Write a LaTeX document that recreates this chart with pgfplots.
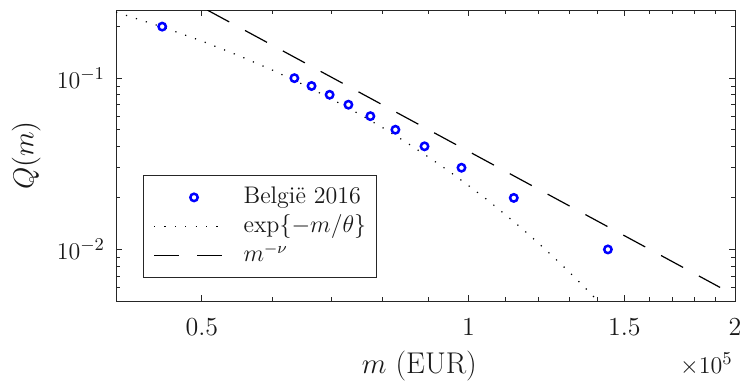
\documentclass[border=0pt]{standalone}
\usepackage{fontspec}
\usepackage{pgfplots}
\pgfplotsset{compat=1.18}
\definecolor{axgray}{gray}{0.15}
\pgfplotstableread{
m Q
45100 0.2
63600 0.1
66500 0.09
69700 0.08
73200 0.07
77500 0.06
82700 0.05
89200 0.04
98200 0.03
112500 0.02
143700 0.01
}\datatab
\pgfplotstableread{
m Q
40000 0.243
45000 0.200
50000 0.1647
55000 0.1356
60000 0.1117
65000 0.0920
70000 0.0757
75000 0.0624
80000 0.0514
85000 0.0423
90000 0.0348
95000 0.0287
100000 0.0236
105000 0.0195
110000 0.0160
115000 0.0132
120000 0.01086
125000 0.00894
130000 0.00737
135000 0.00607
140000 0.00500
145000 0.00412
}\exptab
\pgfplotstableread{
m Q
50700 0.25
192400 0.006
}\powtab
\begin{document}
\begin{tikzpicture}
\begin{axis}[
  at={(0,0)}, anchor=south west,
  scale only axis, width=309.5pt, height=145.5pt,
  xmode=log, ymode=log,
  xmin=40000, xmax=200000, ymin=0.005, ymax=0.25,
  xtick={50000,100000,150000,200000},
  xticklabels={0.5,1,1.5,2},
  minor xtick={60000,70000,80000,90000,110000,120000,130000,140000,160000,170000,180000,190000},
  ytick={0.01,0.1},
  yticklabels={$10^{-2}$,$10^{-1}$},
  minor ytick={0.006,0.007,0.008,0.009,0.02,0.03,0.04,0.05,0.06,0.07,0.08,0.09,0.2},
  tick align=inside,
  major tick length=3pt, minor tick length=1.8pt,
  axis line style={axgray, line width=0.4pt},
  every tick/.style={axgray, line width=0.4pt},
  tick label style={font=\fontsize{13}{15}\selectfont, text=black!90},
  xticklabel style={yshift=-5pt},
  yticklabel style={xshift=-2pt},
  label style={font=\fontsize{15}{18}\selectfont, text=black!90},
  xlabel={$m$ (EUR)},
  ylabel={$Q(m)$},
  xlabel style={at={(axis description cs:0.49,-0.225)}, anchor=center},
  ylabel style={at={(axis description cs:-0.145,0.5)}, anchor=center},
  legend cell align=left,
  legend image code/.code={\draw[mark repeat=2,mark phase=2,#1] plot coordinates {(0pt,0pt) (20pt,0pt) (35pt,0pt)};},
  legend style={at={(rel axis cs:0.0436,0.433)}, anchor=north west,
    draw=axgray, line width=0.4pt, fill=white,
    font=\fontsize{12}{14}\selectfont,
    inner xsep=5pt, inner ysep=5.5pt, row sep=3.6pt, column sep=9.5pt,
    nodes={inner sep=0pt, text height=8.5pt, text depth=2.5pt, text=black!90}},
]
\addplot[only marks, mark=o, mark size=1.85pt, blue, mark options={line width=1.25pt, blue}] table[x=m,y=Q] {\datatab};
\addlegendentry{België 2016}
\addplot[black, line width=0.6pt, dash pattern=on 0.6pt off 4.6pt] table[x=m,y=Q] {\exptab};
\addlegendentry{$\exp\{-m/\theta\}$}
\addplot[black, line width=0.6pt, dash pattern=on 12.5pt off 9pt] table[x=m,y=Q] {\powtab};
\addlegendentry{$m^{-\nu}$}
\end{axis}
\node[anchor=east, font=\fontsize{13}{15}\selectfont, text=black!90, inner sep=0pt] at (308.5pt,-31.5pt) {$\times10^{5}$};
\pgfresetboundingbox
\path (-58pt,-40pt) rectangle (312pt,150.5pt);
\end{tikzpicture}
\end{document}
